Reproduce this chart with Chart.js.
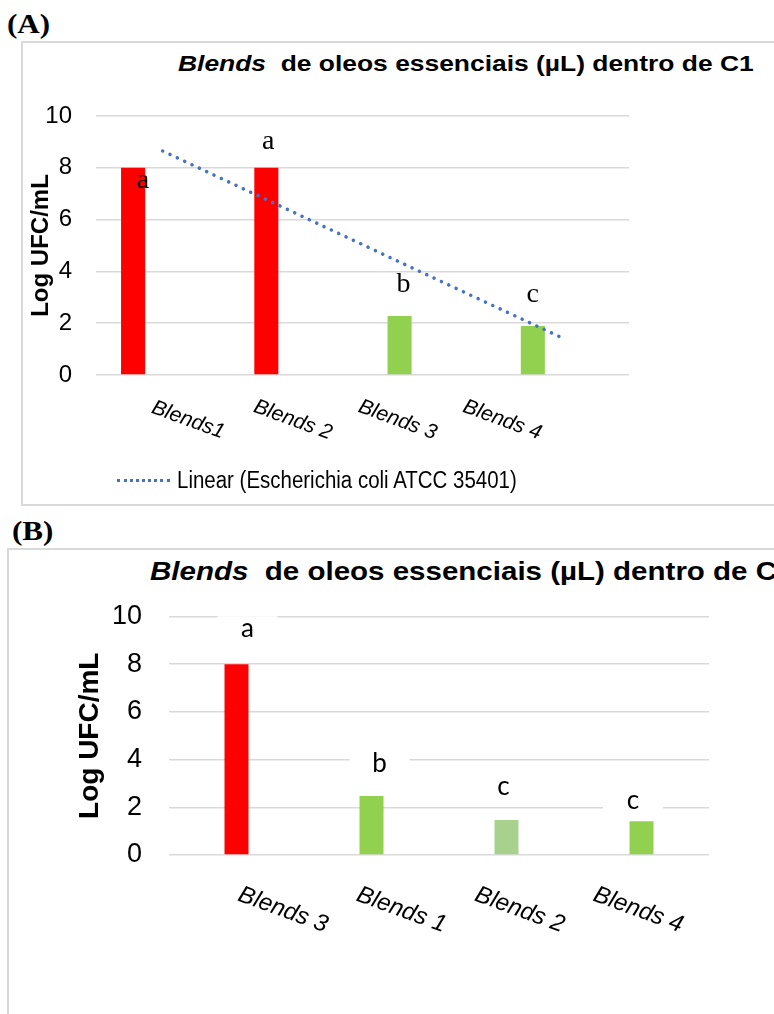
<!DOCTYPE html>
<html>
<head>
<meta charset="utf-8">
<script src="https://cdn.jsdelivr.net/npm/chart.js@4.4.0/dist/chart.umd.min.js"></script>
<style>
body{margin:0;background:#fff;width:774px;height:1014px;position:relative;overflow:hidden;font-family:"Liberation Sans",Arial,sans-serif;color:#000}
.tag{position:absolute;font-family:"Liberation Serif",serif;font-weight:bold;font-size:27px;line-height:27px;transform:scaleX(1.15);transform-origin:left}
.panel{position:absolute;border:2px solid #D9D9D9;box-sizing:border-box}
.title{position:absolute;font-weight:bold;white-space:nowrap;transform-origin:left}
.holder{position:absolute}
.legend{position:absolute;white-space:nowrap;font-size:23px;line-height:23px}
.legend .line{display:inline-block;width:53px;border-top:3px dotted #4472C4;vertical-align:middle;margin-right:7px}
.legend .txt{display:inline-block;transform:scaleX(0.89);transform-origin:left;vertical-align:middle}
</style>
</head>
<body>
<div class="tag" style="left:7px;top:11px">(A)</div>
<div class="panel" style="left:21px;top:41px;width:800px;height:465px"></div>
<div class="title" style="left:178px;top:53px;font-size:22px;line-height:22px;transform:scaleX(1.2)"><i>Blends</i>&nbsp; de oleos essenciais (µL) dentro de C1</div>
<div class="holder" style="left:22px;top:42px"><canvas id="c1" width="752" height="463"></canvas></div>
<div class="legend" style="left:117px;top:468px"><span class="line"></span><span class="txt">Linear (Escherichia coli ATCC 35401)</span></div>

<div class="tag" style="left:12px;top:518px">(B)</div>
<div class="panel" style="left:7px;top:548px;width:800px;height:500px"></div>
<div class="title" style="left:150px;top:558px;font-size:26px;line-height:26px;transform:scaleX(1.135)"><i>Blends</i>&nbsp; de oleos essenciais (µL) dentro de C2</div>
<div class="holder" style="left:7px;top:548px"><canvas id="c2" width="767" height="466"></canvas></div>

<script>
// values (Log UFC/mL)
const categoriesC1 = ['Blends1', 'Blends 2', 'Blends 3', 'Blends 4'];
const ecoliC1 = [8, 8, 2.28, 1.89];
const trendC1 = [8.65, 6.24, 3.83, 1.43];
const lettersC1 = ['a', 'a', 'b', 'c'];
const letterLevelsC1 = [7.5, 9.0, 3.48, 3.11];

const categoriesC2 = ['Blends 3', 'Blends 1', 'Blends 2', 'Blends 4'];
const ecoliC2 = [8, 2.47, 1.47, 1.42];
const lettersC2 = ['a', 'b', 'c', 'c'];
const letterLevelsC2 = [9.51, 3.85, 2.85, 2.30];

const yMin = 0, yMax = 10, yStep = 2;

const RED = '#FF0000', GREEN = '#92D050', LIGHTGREEN = '#A9D18E';

Chart.defaults.font.family = '"Liberation Sans", Arial, sans-serif';
Chart.defaults.color = '#000';

// rotated category names drawn at the x scale positions
const slantLabels = {
	id: 'slantLabels',
	afterDraw(chart, args, opts){
		const ctx = chart.ctx, xs = chart.scales.x, area = chart.chartArea;
		ctx.save();
		ctx.font = opts.font;
		ctx.fillStyle = '#000';
		ctx.textAlign = 'center';
		ctx.textBaseline = 'middle';
		chart.data.labels.forEach((lab, i) => {
			let px = xs.getPixelForValue(i) - area.left;
			let cx = area.left + opts.shift + px * opts.spread;
			let cy = area.bottom + opts.drop;
			ctx.save();
			ctx.translate(cx, cy);
			ctx.rotate(20 * Math.PI / 180);
			ctx.fillText(lab, 0, 0);
			ctx.restore();
		});
		ctx.restore();
	}
};

// significance letters over the bars
const barLetters = {
	id: 'barLetters',
	afterDatasetsDraw(chart, args, opts){
		const ctx = chart.ctx, ys = chart.scales.y;
		const meta = chart.getDatasetMeta(0);
		ctx.save();
		ctx.font = opts.font;
		ctx.textAlign = 'center';
		ctx.textBaseline = 'middle';
		opts.letters.forEach((t, i) => {
			let x = meta.data[i].x + opts.dx[i];
			let y = ys.getPixelForValue(opts.levels[i]);
			if(opts.bg){
				ctx.fillStyle = '#fff';
				ctx.fillRect(x - 30, y - 12, 60, 24);
			}
			ctx.fillStyle = '#000';
			ctx.fillText(t, x, y);
		});
		ctx.restore();
	}
};

function yScale(fontSize, titleSize, tickPad, titlePad, width){
	return {
		min: yMin, max: yMax,
		ticks: {stepSize: yStep, font: {size: fontSize}, color: '#000', padding: tickPad},
		grid: {color: '#D9D9D9', lineWidth: 1.5, drawTicks: false},
		border: {display: false},
		title: {display: true, text: 'Log UFC/mL', color: '#000', font: {size: titleSize, weight: 'bold'}, padding: {top: titlePad, bottom: 0}},
		afterFit(s){ s.width = width; }
	};
}

new Chart(document.getElementById('c1').getContext('2d'), {
	type: 'bar',
	data: {
		labels: categoriesC1,
		datasets: [{
			label: 'Escherichia coli ATCC 35401',
			data: ecoliC1,
			backgroundColor: [RED, RED, GREEN, GREEN],
			categoryPercentage: 0.887,
			barPercentage: 0.407,
			order: 2
		}, {
			label: '',
			data: [null, null, null, null],
			categoryPercentage: 0.887,
			barPercentage: 0.407,
			order: 3
		}, {
			type: 'line',
			label: 'Linear (Escherichia coli ATCC 35401)',
			data: trendC1,
			borderColor: '#4472C4',
			borderWidth: 3.5,
			borderDash: [0.1, 8],
			borderCapStyle: 'round',
			pointRadius: 0,
			fill: false,
			order: 1
		}]
	},
	options: {
		responsive: false,
		animation: false,
		layout: {padding: {top: 74, right: 145, left: 0, bottom: 0}},
		plugins: {
			legend: {display: false},
			tooltip: {enabled: false},
			slantLabels: {font: 'italic 21px "Liberation Sans", Arial, sans-serif', shift: 39.7, spread: 0.786, drop: 45},
			barLetters: {font: '28px "Liberation Serif", serif', letters: lettersC1, levels: letterLevelsC1, dx: [10, 2, 4, 0], bg: false}
		},
		scales: {
			x: {grid: {display: false}, border: {display: false}, ticks: {display: false}, afterFit(s){ s.height = 130; }},
			y: yScale(24, 24, 24, 5, 74)
		}
	},
	plugins: [slantLabels, barLetters]
});

new Chart(document.getElementById('c2').getContext('2d'), {
	type: 'bar',
	data: {
		labels: categoriesC2,
		datasets: [{
			label: 'Escherichia coli ATCC 35401',
			data: ecoliC2,
			backgroundColor: [RED, GREEN, LIGHTGREEN, GREEN],
			categoryPercentage: 0.8,
			barPercentage: 0.222
		}]
	},
	options: {
		responsive: false,
		animation: false,
		layout: {padding: {top: 68.5, right: 65, left: 0, bottom: 0}},
		plugins: {
			legend: {display: false},
			tooltip: {enabled: false},
			slantLabels: {font: 'italic 24px "Liberation Sans", Arial, sans-serif', shift: 54.8, spread: 0.877, drop: 55},
			barLetters: {font: '26px Lato, "Open Sans", sans-serif', letters: lettersC2, levels: letterLevelsC2, dx: [11, 8, -3, -8.5], bg: true}
		},
		scales: {
			x: {grid: {display: false}, border: {display: false}, ticks: {display: false}, afterFit(s){ s.height = 159; }},
			y: yScale(27, 28, 27, 66, 162)
		}
	},
	plugins: [slantLabels, barLetters]
});
</script>
</body>
</html>
